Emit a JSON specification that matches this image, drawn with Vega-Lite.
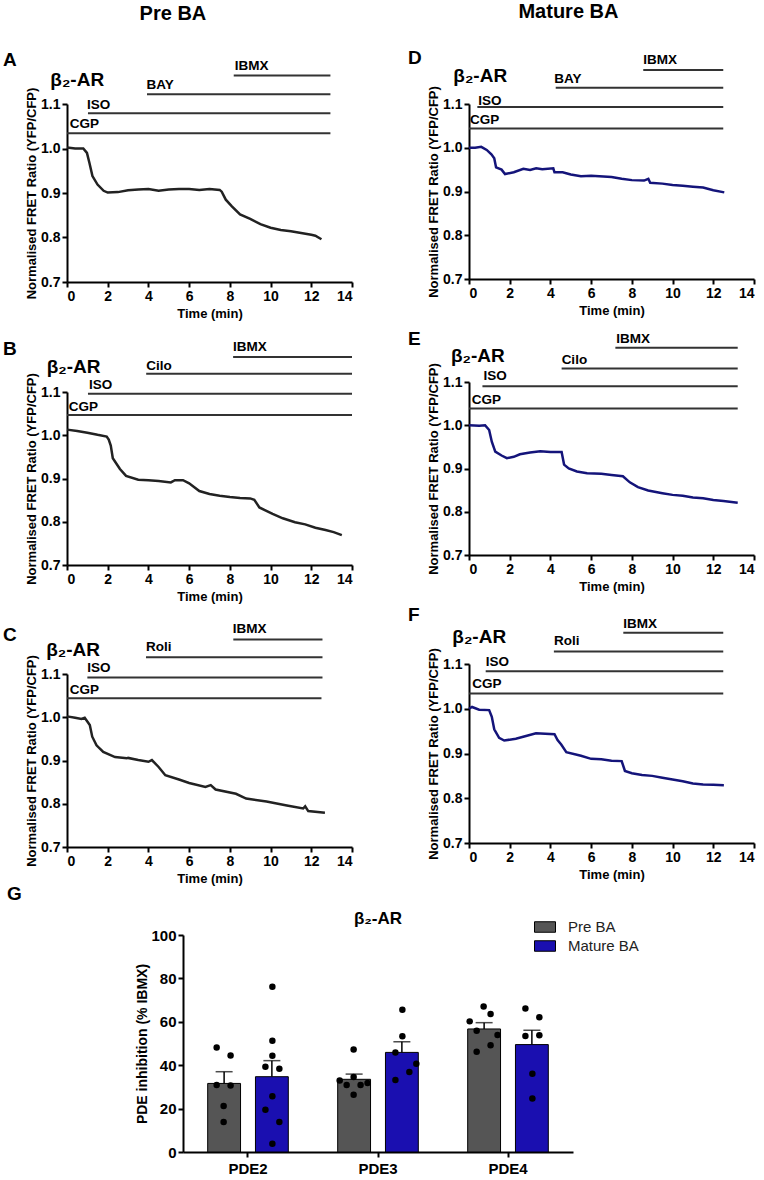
{
  "$schema": "https://vega.github.io/schema/vega-lite/v6.json",
  "background": "white",
  "padding": {"left": 2, "top": 2, "right": 1, "bottom": 1},
  "config": {
    "font": "Liberation Sans",
    "view": {"stroke": null},
    "axis": {"domainColor": "#000", "domainWidth": 2, "tickColor": "#000", "tickWidth": 2, "tickSize": 5, "labelColor": "#000", "labelFontWeight": "bold", "labelFontSize": 14, "labelFont": "Liberation Sans", "titleColor": "#000", "titleFontWeight": "bold", "titleFontSize": 13, "titleFont": "Liberation Sans", "grid": false, "labelPadding": 2},
    "axisX": {"labelAngle": 0, "titlePadding": 4},
    "axisY": {"titlePadding": 2},
    "text": {"font": "Liberation Sans", "fontWeight": "bold", "color": "#000"},
    "title": {"font": "Liberation Sans", "fontWeight": "bold", "color": "#000"}
  },
  "datasets": {
    "cA": [{"t":0,"r":1.002},{"t":0.4,"r":1.0},{"t":0.8,"r":1.0},{"t":0.98,"r":0.99},{"t":1.1,"r":0.968},{"t":1.25,"r":0.938},{"t":1.5,"r":0.919},{"t":1.8,"r":0.905},{"t":2.0,"r":0.901},{"t":2.5,"r":0.902},{"t":3.0,"r":0.906},{"t":3.5,"r":0.908},{"t":4.0,"r":0.909},{"t":4.5,"r":0.905},{"t":5.0,"r":0.908},{"t":5.5,"r":0.909},{"t":6.0,"r":0.909},{"t":6.5,"r":0.907},{"t":7.0,"r":0.909},{"t":7.5,"r":0.907},{"t":7.6,"r":0.903},{"t":7.8,"r":0.885},{"t":8.1,"r":0.87},{"t":8.5,"r":0.852},{"t":9.0,"r":0.842},{"t":9.5,"r":0.83},{"t":10.0,"r":0.822},{"t":10.5,"r":0.817},{"t":11.0,"r":0.814},{"t":11.5,"r":0.81},{"t":12.0,"r":0.806},{"t":12.2,"r":0.804},{"t":12.5,"r":0.796}],
    "cB": [{"t":0,"r":1.013},{"t":0.5,"r":1.01},{"t":1.0,"r":1.006},{"t":1.5,"r":1.001},{"t":1.95,"r":0.997},{"t":2.05,"r":0.99},{"t":2.15,"r":0.976},{"t":2.25,"r":0.947},{"t":2.6,"r":0.922},{"t":2.9,"r":0.906},{"t":3.5,"r":0.897},{"t":4.0,"r":0.896},{"t":4.5,"r":0.894},{"t":5.1,"r":0.891},{"t":5.3,"r":0.896},{"t":5.7,"r":0.896},{"t":6.0,"r":0.889},{"t":6.5,"r":0.871},{"t":7.0,"r":0.864},{"t":7.5,"r":0.86},{"t":8.0,"r":0.857},{"t":8.5,"r":0.855},{"t":9.0,"r":0.854},{"t":9.2,"r":0.851},{"t":9.45,"r":0.833},{"t":10.1,"r":0.818},{"t":10.6,"r":0.808},{"t":11.2,"r":0.799},{"t":11.7,"r":0.794},{"t":12.2,"r":0.786},{"t":12.7,"r":0.781},{"t":13.1,"r":0.776},{"t":13.5,"r":0.769}],
    "cC": [{"t":0,"r":1.002},{"t":0.4,"r":0.999},{"t":0.71,"r":0.996},{"t":0.87,"r":0.999},{"t":1.12,"r":0.982},{"t":1.24,"r":0.955},{"t":1.45,"r":0.935},{"t":1.78,"r":0.92},{"t":2.36,"r":0.908},{"t":2.94,"r":0.905},{"t":3.0,"r":0.906},{"t":3.5,"r":0.901},{"t":4.0,"r":0.897},{"t":4.17,"r":0.901},{"t":4.5,"r":0.885},{"t":4.83,"r":0.866},{"t":5.5,"r":0.856},{"t":6.0,"r":0.848},{"t":6.8,"r":0.839},{"t":7.06,"r":0.843},{"t":7.3,"r":0.833},{"t":8.3,"r":0.823},{"t":8.8,"r":0.812},{"t":9.8,"r":0.805},{"t":10.8,"r":0.796},{"t":11.6,"r":0.789},{"t":11.7,"r":0.794},{"t":11.85,"r":0.783},{"t":12.67,"r":0.779}],
    "cD": [{"t":0,"r":1.0},{"t":0.3,"r":1.0},{"t":0.6,"r":1.002},{"t":0.87,"r":0.995},{"t":1.1,"r":0.985},{"t":1.24,"r":0.976},{"t":1.33,"r":0.955},{"t":1.6,"r":0.95},{"t":1.77,"r":0.94},{"t":2.2,"r":0.944},{"t":2.67,"r":0.952},{"t":3.0,"r":0.949},{"t":3.3,"r":0.953},{"t":3.6,"r":0.951},{"t":4.14,"r":0.953},{"t":4.2,"r":0.944},{"t":4.6,"r":0.944},{"t":5.0,"r":0.939},{"t":5.5,"r":0.935},{"t":6.0,"r":0.936},{"t":7.0,"r":0.933},{"t":7.5,"r":0.929},{"t":8.0,"r":0.926},{"t":8.6,"r":0.925},{"t":8.81,"r":0.929},{"t":8.9,"r":0.92},{"t":9.5,"r":0.918},{"t":10.0,"r":0.915},{"t":10.5,"r":0.913},{"t":11.0,"r":0.911},{"t":11.5,"r":0.909},{"t":12.0,"r":0.903},{"t":12.54,"r":0.898}],
    "cE": [{"t":0,"r":1.0},{"t":0.5,"r":0.999},{"t":0.79,"r":1.0},{"t":0.99,"r":0.989},{"t":1.12,"r":0.962},{"t":1.29,"r":0.939},{"t":1.6,"r":0.93},{"t":1.86,"r":0.924},{"t":2.2,"r":0.927},{"t":2.5,"r":0.933},{"t":3.0,"r":0.937},{"t":3.5,"r":0.94},{"t":4.0,"r":0.938},{"t":4.55,"r":0.938},{"t":4.67,"r":0.909},{"t":4.9,"r":0.9},{"t":5.3,"r":0.893},{"t":5.8,"r":0.889},{"t":6.5,"r":0.888},{"t":7.0,"r":0.885},{"t":7.56,"r":0.882},{"t":7.9,"r":0.868},{"t":8.3,"r":0.857},{"t":8.8,"r":0.849},{"t":9.5,"r":0.843},{"t":10.0,"r":0.839},{"t":10.5,"r":0.837},{"t":11.0,"r":0.833},{"t":11.5,"r":0.831},{"t":12.0,"r":0.827},{"t":12.5,"r":0.825},{"t":13.2,"r":0.821}],
    "cF": [{"t":0,"r":1.0},{"t":0.15,"r":1.004},{"t":0.5,"r":0.998},{"t":0.99,"r":0.997},{"t":1.12,"r":0.982},{"t":1.24,"r":0.954},{"t":1.48,"r":0.935},{"t":1.73,"r":0.929},{"t":2.3,"r":0.933},{"t":2.8,"r":0.939},{"t":3.29,"r":0.945},{"t":4.2,"r":0.943},{"t":4.35,"r":0.93},{"t":4.53,"r":0.92},{"t":4.78,"r":0.903},{"t":5.5,"r":0.895},{"t":6.0,"r":0.888},{"t":6.5,"r":0.887},{"t":7.0,"r":0.884},{"t":7.5,"r":0.883},{"t":7.66,"r":0.861},{"t":8.0,"r":0.856},{"t":8.5,"r":0.852},{"t":9.0,"r":0.85},{"t":9.5,"r":0.846},{"t":10.0,"r":0.842},{"t":10.5,"r":0.838},{"t":11.0,"r":0.833},{"t":11.5,"r":0.831},{"t":12.0,"r":0.83},{"t":12.52,"r":0.829}],
    "dA": [{"drug":"CGP","t":0,"t2":12.94,"r":1.034,"lt":0.13,"lr":1.054},{"drug":"ISO","t":1.03,"t2":12.94,"r":1.079,"lt":0.98,"lr":1.097},{"drug":"BAY","t":3.93,"t2":12.94,"r":1.122,"lt":3.9,"lr":1.142},{"drug":"IBMX","t":8.19,"t2":12.94,"r":1.164,"lt":8.24,"lr":1.186}],
    "dB": [{"drug":"CGP","t":0,"t2":14,"r":1.047,"lt":0.08,"lr":1.066},{"drug":"ISO","t":1.03,"t2":14,"r":1.096,"lt":1.08,"lr":1.117},{"drug":"Cilo","t":3.89,"t2":14,"r":1.142,"lt":3.89,"lr":1.16},{"drug":"IBMX","t":8.16,"t2":14,"r":1.181,"lt":8.16,"lr":1.203}],
    "dC": [{"drug":"CGP","t":0,"t2":12.5,"r":1.044,"lt":0.13,"lr":1.063},{"drug":"ISO","t":1.0,"t2":12.55,"r":1.092,"lt":1.0,"lr":1.113},{"drug":"Roli","t":3.88,"t2":12.55,"r":1.139,"lt":3.88,"lr":1.162},{"drug":"IBMX","t":8.17,"t2":12.55,"r":1.18,"lt":8.14,"lr":1.204}],
    "dD": [{"drug":"CGP","t":0,"t2":12.49,"r":1.044,"lt":0.05,"lr":1.064},{"drug":"ISO","t":0.41,"t2":12.49,"r":1.093,"lt":0.46,"lr":1.108},{"drug":"BAY","t":4.26,"t2":12.49,"r":1.137,"lt":4.19,"lr":1.157},{"drug":"IBMX","t":8.56,"t2":12.49,"r":1.178,"lt":8.56,"lr":1.2}],
    "dE": [{"drug":"CGP","t":0,"t2":13.2,"r":1.039,"lt":0.13,"lr":1.059},{"drug":"ISO","t":0.66,"t2":13.2,"r":1.09,"lt":0.71,"lr":1.113},{"drug":"Cilo","t":4.55,"t2":13.2,"r":1.131,"lt":4.55,"lr":1.152},{"drug":"IBMX","t":7.19,"t2":13.2,"r":1.179,"lt":7.23,"lr":1.2}],
    "dF": [{"drug":"CGP","t":0,"t2":12.49,"r":1.034,"lt":0.16,"lr":1.055},{"drug":"ISO","t":0.82,"t2":12.49,"r":1.084,"lt":0.82,"lr":1.104},{"drug":"Roli","t":4.17,"t2":12.49,"r":1.128,"lt":4.17,"lr":1.151},{"drug":"IBMX","t":7.58,"t2":12.49,"r":1.17,"lt":7.58,"lr":1.19}],
    "hA": [{"label":"β₂-AR","t":-0.82,"r":1.155},{"label":"A","t":-3.15,"r":1.2}],
    "hB": [{"label":"β₂-AR","t":-1.0,"r":1.158},{"label":"B","t":-3.15,"r":1.2}],
    "hC": [{"label":"β₂-AR","t":-1.02,"r":1.156},{"label":"C","t":-3.15,"r":1.19}],
    "hD": [{"label":"β₂-AR","t":-0.77,"r":1.165},{"label":"D","t":-3.0,"r":1.205}],
    "hE": [{"label":"β₂-AR","t":-0.89,"r":1.16},{"label":"E","t":-3.0,"r":1.2}],
    "hF": [{"label":"β₂-AR","t":-0.82,"r":1.16},{"label":"F","t":-3.0,"r":1.21}],
    "bars": [
      {"pde":"PDE2","group":"Pre BA","mean":31.6,"upper":37.0},
      {"pde":"PDE2","group":"Mature BA","mean":34.7,"upper":42.1},
      {"pde":"PDE3","group":"Pre BA","mean":33.5,"upper":35.9},
      {"pde":"PDE3","group":"Mature BA","mean":45.9,"upper":50.8},
      {"pde":"PDE4","group":"Pre BA","mean":56.7,"upper":59.6},
      {"pde":"PDE4","group":"Mature BA","mean":49.5,"upper":56.1}
    ],
    "dots": [
      {"pde":"PDE2","col":"PL","v":48.2},{"pde":"PDE2","col":"PR","v":44.5},{"pde":"PDE2","col":"PL","v":30.9},{"pde":"PDE2","col":"PR","v":30.6},{"pde":"PDE2","col":"PC","v":21.2},{"pde":"PDE2","col":"PC","v":13.8},
      {"pde":"PDE2","col":"MC","v":76.2},{"pde":"PDE2","col":"MC","v":51.3},{"pde":"PDE2","col":"MC","v":44.4},{"pde":"PDE2","col":"ML","v":39.3},{"pde":"PDE2","col":"MR","v":38.4},{"pde":"PDE2","col":"MC","v":25.7},{"pde":"PDE2","col":"ML","v":19.5},{"pde":"PDE2","col":"MR","v":13.8},{"pde":"PDE2","col":"MC","v":3.8},
      {"pde":"PDE3","col":"PC","v":47.2},{"pde":"PDE3","col":"PLL","v":33.0},{"pde":"PDE3","col":"PL","v":30.9},{"pde":"PDE3","col":"PC","v":34.6},{"pde":"PDE3","col":"PR","v":30.9},{"pde":"PDE3","col":"PRR","v":31.8},{"pde":"PDE3","col":"PC","v":26.4},
      {"pde":"PDE3","col":"MC","v":65.6},{"pde":"PDE3","col":"MC","v":53.3},{"pde":"PDE3","col":"ML","v":45.9},{"pde":"PDE3","col":"MRR","v":40.7},{"pde":"PDE3","col":"MR","v":36.9},{"pde":"PDE3","col":"ML","v":33.2},
      {"pde":"PDE4","col":"PC","v":67.1},{"pde":"PDE4","col":"PR","v":63.6},{"pde":"PDE4","col":"PLL","v":60.2},{"pde":"PDE4","col":"PL","v":55.9},{"pde":"PDE4","col":"PRR","v":53.9},{"pde":"PDE4","col":"PR","v":49.2},{"pde":"PDE4","col":"PL","v":46.2},
      {"pde":"PDE4","col":"ML","v":66.1},{"pde":"PDE4","col":"MR","v":62.1},{"pde":"PDE4","col":"ML","v":53.5},{"pde":"PDE4","col":"MR","v":53.8},{"pde":"PDE4","col":"MC","v":36.1},{"pde":"PDE4","col":"MC","v":24.7}
    ],
    "gtitle": [{"label":"β₂-AR","pde":"PDE3","v":107.4}]
  },
  "spacing": 0,
  "resolve": {"legend": {"color": "independent"}},
  "vconcat": [
    {
      "spacing": 54,
      "hconcat": [
        {
          "title": {"text": "Pre BA", "fontSize": 20, "anchor": "middle", "frame": "bounds", "dx": -5, "offset": 27},
          "spacing": 19,
          "vconcat": [
            {"width": 285, "height": 178, "layer": [
              {"data": {"name": "cA"}, "mark": {"type": "line", "color": "#222", "strokeWidth": 2.5},
               "encoding": {"x": {"field": "t", "type": "quantitative", "title": "Time (min)", "scale": {"domain": [0, 14], "nice": false}, "axis": {"values": [0,2,4,6,8,10,12,14]}},
                            "y": {"field": "r", "type": "quantitative", "title": "Normalised FRET Ratio (YFP/CFP)", "scale": {"domain": [0.7, 1.1], "nice": false, "zero": false}, "axis": {"values": [0.7,0.8,0.9,1.0,1.1], "format": ".1f"}}}},
              {"data": {"name": "dA"}, "mark": {"type": "rule", "color": "#333", "strokeWidth": 2},
               "encoding": {"x": {"field": "t", "type": "quantitative", "title": "Time (min)"}, "x2": {"field": "t2"}, "y": {"field": "r", "type": "quantitative", "title": "Normalised FRET Ratio (YFP/CFP)"}}},
              {"data": {"name": "dA"}, "mark": {"type": "text", "align": "left", "baseline": "middle", "fontSize": 13.5},
               "encoding": {"x": {"field": "lt", "type": "quantitative", "title": "Time (min)"}, "y": {"field": "lr", "type": "quantitative", "title": "Normalised FRET Ratio (YFP/CFP)"}, "text": {"field": "drug"}}},
              {"data": {"name": "hA"}, "mark": {"type": "text", "align": "left", "baseline": "middle", "fontSize": 19},
               "encoding": {"x": {"field": "t", "type": "quantitative", "title": "Time (min)"}, "y": {"field": "r", "type": "quantitative", "title": "Normalised FRET Ratio (YFP/CFP)"}, "text": {"field": "label"}}}
            ]},
            {"width": 285, "height": 173, "layer": [
              {"data": {"name": "cB"}, "mark": {"type": "line", "color": "#222", "strokeWidth": 2.5},
               "encoding": {"x": {"field": "t", "type": "quantitative", "title": "Time (min)", "scale": {"domain": [0, 14], "nice": false}, "axis": {"values": [0,2,4,6,8,10,12,14]}},
                            "y": {"field": "r", "type": "quantitative", "title": "Normalised FRET Ratio (YFP/CFP)", "scale": {"domain": [0.7, 1.1], "nice": false, "zero": false}, "axis": {"values": [0.7,0.8,0.9,1.0,1.1], "format": ".1f"}}}},
              {"data": {"name": "dB"}, "mark": {"type": "rule", "color": "#333", "strokeWidth": 2},
               "encoding": {"x": {"field": "t", "type": "quantitative", "title": "Time (min)"}, "x2": {"field": "t2"}, "y": {"field": "r", "type": "quantitative", "title": "Normalised FRET Ratio (YFP/CFP)"}}},
              {"data": {"name": "dB"}, "mark": {"type": "text", "align": "left", "baseline": "middle", "fontSize": 13.5},
               "encoding": {"x": {"field": "lt", "type": "quantitative", "title": "Time (min)"}, "y": {"field": "lr", "type": "quantitative", "title": "Normalised FRET Ratio (YFP/CFP)"}, "text": {"field": "drug"}}},
              {"data": {"name": "hB"}, "mark": {"type": "text", "align": "left", "baseline": "middle", "fontSize": 19},
               "encoding": {"x": {"field": "t", "type": "quantitative", "title": "Time (min)"}, "y": {"field": "r", "type": "quantitative", "title": "Normalised FRET Ratio (YFP/CFP)"}, "text": {"field": "label"}}}
            ]},
            {"width": 285, "height": 173, "layer": [
              {"data": {"name": "cC"}, "mark": {"type": "line", "color": "#222", "strokeWidth": 2.5},
               "encoding": {"x": {"field": "t", "type": "quantitative", "title": "Time (min)", "scale": {"domain": [0, 14], "nice": false}, "axis": {"values": [0,2,4,6,8,10,12,14]}},
                            "y": {"field": "r", "type": "quantitative", "title": "Normalised FRET Ratio (YFP/CFP)", "scale": {"domain": [0.7, 1.1], "nice": false, "zero": false}, "axis": {"values": [0.7,0.8,0.9,1.0,1.1], "format": ".1f"}}}},
              {"data": {"name": "dC"}, "mark": {"type": "rule", "color": "#333", "strokeWidth": 2},
               "encoding": {"x": {"field": "t", "type": "quantitative", "title": "Time (min)"}, "x2": {"field": "t2"}, "y": {"field": "r", "type": "quantitative", "title": "Normalised FRET Ratio (YFP/CFP)"}}},
              {"data": {"name": "dC"}, "mark": {"type": "text", "align": "left", "baseline": "middle", "fontSize": 13.5},
               "encoding": {"x": {"field": "lt", "type": "quantitative", "title": "Time (min)"}, "y": {"field": "lr", "type": "quantitative", "title": "Normalised FRET Ratio (YFP/CFP)"}, "text": {"field": "drug"}}},
              {"data": {"name": "hC"}, "mark": {"type": "text", "align": "left", "baseline": "middle", "fontSize": 19},
               "encoding": {"x": {"field": "t", "type": "quantitative", "title": "Time (min)"}, "y": {"field": "r", "type": "quantitative", "title": "Normalised FRET Ratio (YFP/CFP)"}, "text": {"field": "label"}}}
            ]}
          ]
        },
        {
          "title": {"text": "Mature BA", "fontSize": 20, "anchor": "middle", "frame": "bounds", "dx": -13, "offset": 27},
          "spacing": 12,
          "vconcat": [
            {"width": 285, "height": 175, "layer": [
              {"data": {"name": "cD"}, "mark": {"type": "line", "color": "#14147a", "strokeWidth": 2.5},
               "encoding": {"x": {"field": "t", "type": "quantitative", "title": "Time (min)", "scale": {"domain": [0, 14], "nice": false}, "axis": {"values": [0,2,4,6,8,10,12,14]}},
                            "y": {"field": "r", "type": "quantitative", "title": "Normalised FRET Ratio (YFP/CFP)", "scale": {"domain": [0.7, 1.1], "nice": false, "zero": false}, "axis": {"values": [0.7,0.8,0.9,1.0,1.1], "format": ".1f"}}}},
              {"data": {"name": "dD"}, "mark": {"type": "rule", "color": "#333", "strokeWidth": 2},
               "encoding": {"x": {"field": "t", "type": "quantitative", "title": "Time (min)"}, "x2": {"field": "t2"}, "y": {"field": "r", "type": "quantitative", "title": "Normalised FRET Ratio (YFP/CFP)"}}},
              {"data": {"name": "dD"}, "mark": {"type": "text", "align": "left", "baseline": "middle", "fontSize": 13.5},
               "encoding": {"x": {"field": "lt", "type": "quantitative", "title": "Time (min)"}, "y": {"field": "lr", "type": "quantitative", "title": "Normalised FRET Ratio (YFP/CFP)"}, "text": {"field": "drug"}}},
              {"data": {"name": "hD"}, "mark": {"type": "text", "align": "left", "baseline": "middle", "fontSize": 19},
               "encoding": {"x": {"field": "t", "type": "quantitative", "title": "Time (min)"}, "y": {"field": "r", "type": "quantitative", "title": "Normalised FRET Ratio (YFP/CFP)"}, "text": {"field": "label"}}}
            ]},
            {"width": 285, "height": 173, "layer": [
              {"data": {"name": "cE"}, "mark": {"type": "line", "color": "#14147a", "strokeWidth": 2.5},
               "encoding": {"x": {"field": "t", "type": "quantitative", "title": "Time (min)", "scale": {"domain": [0, 14], "nice": false}, "axis": {"values": [0,2,4,6,8,10,12,14]}},
                            "y": {"field": "r", "type": "quantitative", "title": "Normalised FRET Ratio (YFP/CFP)", "scale": {"domain": [0.7, 1.1], "nice": false, "zero": false}, "axis": {"values": [0.7,0.8,0.9,1.0,1.1], "format": ".1f"}}}},
              {"data": {"name": "dE"}, "mark": {"type": "rule", "color": "#333", "strokeWidth": 2},
               "encoding": {"x": {"field": "t", "type": "quantitative", "title": "Time (min)"}, "x2": {"field": "t2"}, "y": {"field": "r", "type": "quantitative", "title": "Normalised FRET Ratio (YFP/CFP)"}}},
              {"data": {"name": "dE"}, "mark": {"type": "text", "align": "left", "baseline": "middle", "fontSize": 13.5},
               "encoding": {"x": {"field": "lt", "type": "quantitative", "title": "Time (min)"}, "y": {"field": "lr", "type": "quantitative", "title": "Normalised FRET Ratio (YFP/CFP)"}, "text": {"field": "drug"}}},
              {"data": {"name": "hE"}, "mark": {"type": "text", "align": "left", "baseline": "middle", "fontSize": 19},
               "encoding": {"x": {"field": "t", "type": "quantitative", "title": "Time (min)"}, "y": {"field": "r", "type": "quantitative", "title": "Normalised FRET Ratio (YFP/CFP)"}, "text": {"field": "label"}}}
            ]},
            {"width": 285, "height": 179, "layer": [
              {"data": {"name": "cF"}, "mark": {"type": "line", "color": "#14147a", "strokeWidth": 2.5},
               "encoding": {"x": {"field": "t", "type": "quantitative", "title": "Time (min)", "scale": {"domain": [0, 14], "nice": false}, "axis": {"values": [0,2,4,6,8,10,12,14]}},
                            "y": {"field": "r", "type": "quantitative", "title": "Normalised FRET Ratio (YFP/CFP)", "scale": {"domain": [0.7, 1.1], "nice": false, "zero": false}, "axis": {"values": [0.7,0.8,0.9,1.0,1.1], "format": ".1f"}}}},
              {"data": {"name": "dF"}, "mark": {"type": "rule", "color": "#333", "strokeWidth": 2},
               "encoding": {"x": {"field": "t", "type": "quantitative", "title": "Time (min)"}, "x2": {"field": "t2"}, "y": {"field": "r", "type": "quantitative", "title": "Normalised FRET Ratio (YFP/CFP)"}}},
              {"data": {"name": "dF"}, "mark": {"type": "text", "align": "left", "baseline": "middle", "fontSize": 13.5},
               "encoding": {"x": {"field": "lt", "type": "quantitative", "title": "Time (min)"}, "y": {"field": "lr", "type": "quantitative", "title": "Normalised FRET Ratio (YFP/CFP)"}, "text": {"field": "drug"}}},
              {"data": {"name": "hF"}, "mark": {"type": "text", "align": "left", "baseline": "middle", "fontSize": 19},
               "encoding": {"x": {"field": "t", "type": "quantitative", "title": "Time (min)"}, "y": {"field": "r", "type": "quantitative", "title": "Normalised FRET Ratio (YFP/CFP)"}, "text": {"field": "label"}}}
            ]}
          ]
        }
      ]
    },
    {
      "spacing": 67,
      "resolve": {"legend": {"color": "independent"}},
      "hconcat": [
        {
          "width": 1, "height": 217,
          "title": {"text": "G", "fontSize": 19, "anchor": "start", "frame": "group", "dx": -60, "offset": 31},
          "data": {"values": []},
          "mark": "point"
        },
        {
          "width": 390, "height": 217,
          "layer": [
            {"data": {"name": "bars"}, "mark": {"type": "bar", "stroke": "#000", "strokeWidth": 1},
             "encoding": {
               "x": {"field": "pde", "type": "nominal", "title": null, "scale": {"paddingInner": 0.38, "paddingOuter": 0.19}, "axis": {"labelFontSize": 15, "labelPadding": 4}},
               "xOffset": {"field": "group", "type": "nominal", "scale": {"domain": ["Pre BA", "Mature BA"], "paddingInner": 0.3125, "paddingOuter": 0}},
               "y": {"field": "mean", "type": "quantitative", "title": "PDE inhibition (% IBMX)", "scale": {"domain": [0, 100]}, "axis": {"values": [0,20,40,60,80,100], "labelFontSize": 15, "titleFontSize": 14, "titlePadding": 1}},
               "color": {"field": "group", "type": "nominal", "scale": {"domain": ["Pre BA", "Mature BA"], "range": ["#555555", "#1a0fb0"]},
                 "legend": {"title": null, "orient": "none", "legendX": 351, "legendY": -19, "symbolType": "M-1,-0.5H1V0.5H-1Z", "symbolSize": 441, "symbolStrokeColor": "#000", "symbolStrokeWidth": 1, "symbolOpacity": 1, "labelFontSize": 15, "labelFontWeight": "normal", "labelColor": "#222", "labelFont": "Liberation Sans", "labelOffset": 12, "rowPadding": -11}}
             }},
            {"data": {"name": "bars"}, "mark": {"type": "rule", "color": "#000", "strokeWidth": 1.5},
             "encoding": {
               "x": {"field": "pde", "type": "nominal", "title": null},
               "xOffset": {"field": "group", "type": "nominal", "scale": {"domain": ["Pre BA", "Mature BA"], "paddingInner": 0.3125, "paddingOuter": 0}},
               "y": {"field": "mean", "type": "quantitative", "title": "PDE inhibition (% IBMX)"}, "y2": {"field": "upper"}
             }},
            {"data": {"name": "bars"}, "mark": {"type": "tick", "color": "#000", "thickness": 1.5, "size": 17},
             "encoding": {
               "x": {"field": "pde", "type": "nominal", "title": null},
               "xOffset": {"field": "group", "type": "nominal", "scale": {"domain": ["Pre BA", "Mature BA"], "paddingInner": 0.3125, "paddingOuter": 0}},
               "y": {"field": "upper", "type": "quantitative", "title": "PDE inhibition (% IBMX)"}
             }},
            {"data": {"name": "dots"}, "mark": {"type": "circle", "color": "#000", "opacity": 1, "size": 42},
             "encoding": {
               "x": {"field": "pde", "type": "nominal", "title": null},
               "xOffset": {"field": "col", "type": "nominal", "scale": {"type": "point", "domain": ["PLL","PL","PC","PR","PRR","g1","g2","MLL","ML","MC","MR","MRR"], "padding": 0.286}},
               "y": {"field": "v", "type": "quantitative", "title": "PDE inhibition (% IBMX)"}
             }},
            {"data": {"name": "gtitle"}, "mark": {"type": "text", "fontSize": 17, "baseline": "middle"},
             "encoding": {
               "x": {"field": "pde", "type": "nominal", "title": null},
               "y": {"field": "v", "type": "quantitative", "title": "PDE inhibition (% IBMX)"},
               "text": {"field": "label"}
             }}
          ],
          "resolve": {"scale": {"xOffset": "independent"}}
        }
      ]
    }
  ]
}
